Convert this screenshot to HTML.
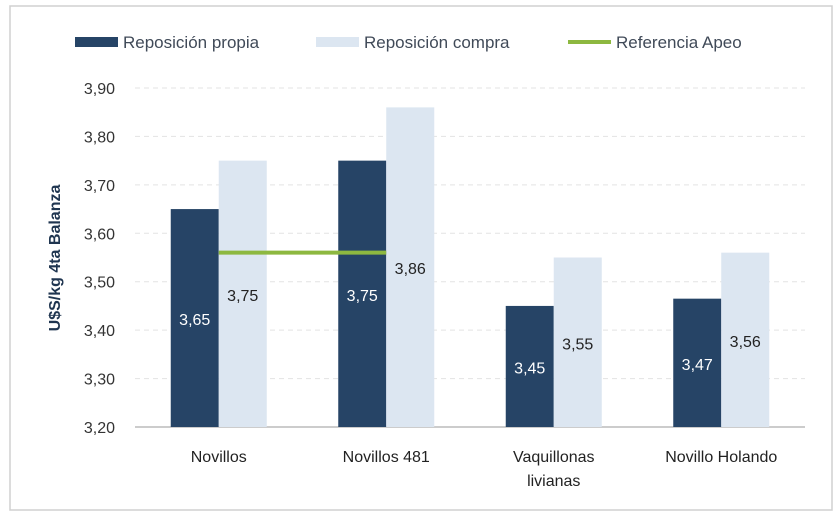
<!DOCTYPE html>
<html><head><meta charset="utf-8"><style>
body{margin:0;background:#fff;width:840px;height:517px;overflow:hidden;font-family:"Liberation Sans",sans-serif}
</style></head><body>
<svg id="c" width="840" height="517" font-family="Liberation Sans, sans-serif">
<rect x="10" y="6" width="822" height="504" fill="#fff" stroke="#d0d0d0" stroke-width="1.5"/>
<g>
<g><rect x="75" y="37" width="43" height="10" fill="#264466"/><text x="123" y="48" font-size="17" fill="#404a58">Reposición propia</text></g>
<g><rect x="316" y="37" width="43" height="10" fill="#dce6f1"/><text x="364" y="48" font-size="17" fill="#404a58">Reposición compra</text></g>
<g><rect x="568" y="40" width="43" height="4" fill="#8db840"/><text x="616" y="48" font-size="17" fill="#404a58">Referencia Apeo</text></g>
</g>
<text transform="translate(60,258) rotate(-90)" text-anchor="middle" font-size="16" font-weight="bold" fill="#1f3550">U$S/kg 4ta Balanza</text>
<g id="grid"></g><g id="bars"></g>
</svg>
<script>
const categories=[["Novillos"],["Novillos 481"],["Vaquillonas","livianas"],["Novillo Holando"]];
const propia=[3.65,3.75,3.45,3.465];
const compra=[3.75,3.86,3.55,3.56];
const propiaLabels=["3,65","3,75","3,45","3,47"];
const compraLabels=["3,75","3,86","3,55","3,56"];
const apeo=[3.56,3.56];
const ticks=[3.2,3.3,3.4,3.5,3.6,3.7,3.8,3.9];
const tickLabels=["3,20","3,30","3,40","3,50","3,60","3,70","3,80","3,90"];
const NS="http://www.w3.org/2000/svg";
const svg=document.getElementById('c');
const x0=135,x1=805,yMin=3.2,yMax=3.9,pTop=88,pBot=427;
const y=v=>pBot-(v-yMin)/(yMax-yMin)*(pBot-pTop);
const gw=(x1-x0)/categories.length;
const cx=i=>x0+gw*(i+0.5);
const bw=48;
function mk(t,a,p){const e=document.createElementNS(NS,t);for(const k in a)e.setAttribute(k,a[k]);(p||svg).appendChild(e);return e;}
ticks.forEach((t,i)=>{
 const g=mk('g',{});
 
 
 if(i>0)mk('line',{x1:x0,x2:x1,y1:y(t),y2:y(t),stroke:'#e3e3e3','stroke-dasharray':'5,4'},g);
 const tx=mk('text',{x:115,y:y(t)+6,'text-anchor':'end','font-size':'16',fill:'#333'},g);tx.textContent=tickLabels[i];
});
const ax=mk('line',{x1:x0,x2:x1,y1:pBot,y2:pBot,stroke:'#999'});


categories.forEach((c,i)=>{
 const r1=mk('rect',{x:cx(i)-bw,y:y(propia[i]),width:bw,height:pBot-y(propia[i]),fill:'#264466'});
 
 
 const r2=mk('rect',{x:cx(i),y:y(compra[i]),width:bw,height:pBot-y(compra[i]),fill:'#dce6f1'});
 
 
 const t1=mk('text',{x:cx(i)-bw/2,y:(y(propia[i])+pBot)/2+7,'text-anchor':'middle','font-size':'16',fill:'#fff'});t1.textContent=propiaLabels[i];
 
 
 const t2=mk('text',{x:cx(i)+bw/2,y:(y(compra[i])+pBot)/2+7,'text-anchor':'middle','font-size':'16',fill:'#222'});t2.textContent=compraLabels[i];
 
 
 c.forEach((l,j)=>{const t=mk('text',{x:cx(i),y:462+j*24,'text-anchor':'middle','font-size':'16',fill:'#222'});t.textContent=l;
 
 });
});
const ln=mk('line',{x1:cx(0),x2:cx(1),y1:y(apeo[0]),y2:y(apeo[1]),stroke:'#8db840','stroke-width':4});


</script>
</body></html>
